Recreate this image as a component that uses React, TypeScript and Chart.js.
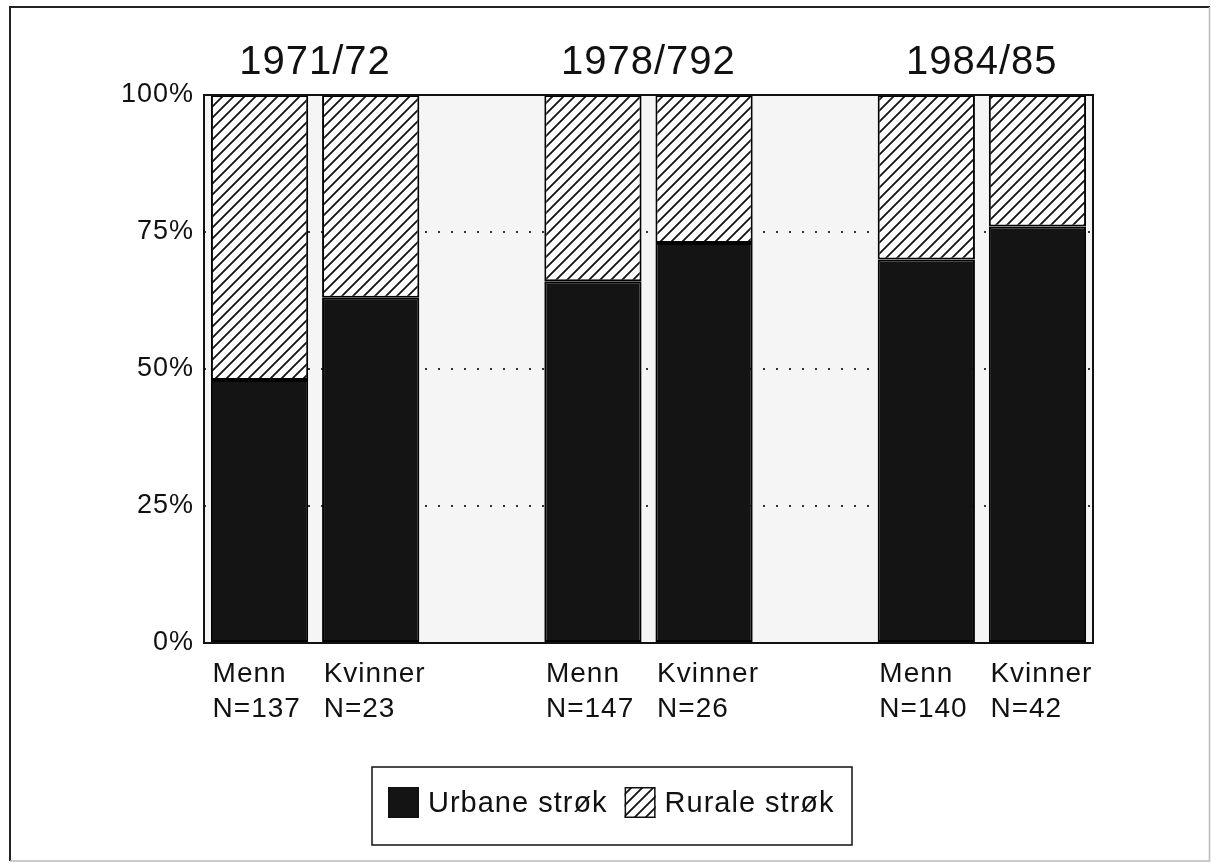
import React, { useEffect, useRef } from "react";
import { Chart, registerables } from "chart.js";

Chart.register(...registerables);

// ---- data ----
const groupTitles = ["1971/72", "", "", "1978/792", "", "", "1984/85", ""];
const barLabels: (string | string[])[] = [
  ["Menn", "N=137"],
  ["Kvinner", "N=23"],
  "",
  ["Menn", "N=147"],
  ["Kvinner", "N=26"],
  "",
  ["Menn", "N=140"],
  ["Kvinner", "N=42"],
];
const urbane = [48, 63, null, 66, 73, null, 70, 76];
const rurale = [52, 37, null, 34, 27, null, 30, 24];
const seriesNames = ["Urbane strøk", "Rurale strøk"];
const yMin = 0;
const yMax = 100;
const yStep = 25;

const FONT = "'Liberation Sans', Arial, Helvetica, sans-serif";
const SPACING = "1px";

function makeHatch(): CanvasPattern | string {
  const s = 11;
  const c = document.createElement("canvas");
  c.width = s;
  c.height = s;
  const g = c.getContext("2d");
  if (!g) return "#fff";
  g.fillStyle = "#fff";
  g.fillRect(0, 0, s, s);
  g.strokeStyle = "#111";
  g.lineWidth = 1.8;
  g.beginPath();
  g.moveTo(-1, s + 1);
  g.lineTo(s + 1, -1);
  g.moveTo(-s / 2 - 1, s / 2 + 1);
  g.lineTo(s / 2 + 1, -s / 2 - 1);
  g.moveTo(s / 2 - 1, s * 1.5 + 1);
  g.lineTo(s * 1.5 + 1, s / 2 - 1);
  g.stroke();
  const p = g.createPattern(c, "repeat");
  return p || "#fff";
}

const decorPlugin = {
  id: "decor",
  beforeUpdate(chart: any) {
    chart.ctx.letterSpacing = SPACING;
  },
  beforeDraw(chart: any) {
    const { ctx, chartArea: a } = chart;
    ctx.letterSpacing = SPACING;
    ctx.save();
    ctx.fillStyle = "#ffffff";
    ctx.fillRect(0, 0, chart.width, chart.height);
    ctx.fillStyle = "#f5f5f5";
    ctx.fillRect(a.left, a.top, a.right - a.left, a.bottom - a.top);
    ctx.restore();
  },
  afterDatasetsDraw(chart: any) {
    const { ctx, chartArea: a } = chart;
    ctx.save();
    ctx.strokeStyle = "#111";
    ctx.lineWidth = 2;
    ctx.strokeRect(a.left, a.top, a.right - a.left, a.bottom - a.top);
    ctx.restore();
  },
  afterDraw(chart: any) {
    const { ctx } = chart;
    ctx.save();
    // outer frame
    ctx.strokeStyle = "#222";
    ctx.lineWidth = 2;
    ctx.beginPath();
    ctx.moveTo(10, 861);
    ctx.lineTo(10, 7);
    ctx.lineTo(1210, 7);
    ctx.stroke();
    ctx.strokeStyle = "#bbb";
    ctx.lineWidth = 1.5;
    ctx.beginPath();
    ctx.moveTo(1209.5, 7);
    ctx.lineTo(1209.5, 861);
    ctx.lineTo(10, 861);
    ctx.stroke();

    // legend
    const bx = 372, by = 767, bw = 480, bh = 78;
    ctx.strokeStyle = "#111";
    ctx.lineWidth = 1.5;
    ctx.strokeRect(bx, by, bw, bh);
    ctx.font = `29px ${FONT}`;
    ctx.letterSpacing = SPACING;
    ctx.textBaseline = "middle";
    ctx.textAlign = "left";
    let x = 388;
    const sq = 31;
    const sy = 787;
    chart.data.datasets.forEach((ds: any) => {
      ctx.fillStyle = ds.backgroundColor;
      ctx.fillRect(x, sy, sq, sq);
      ctx.strokeStyle = "#111";
      ctx.lineWidth = 1.5;
      ctx.strokeRect(x + 0.75, sy + 0.75, sq - 1.5, sq - 1.5);
      x += sq + 9;
      ctx.fillStyle = "#111";
      ctx.fillText(ds.label, x, 804);
      x += ctx.measureText(ds.label).width + 17;
    });
    ctx.restore();
  },
};

export default function App() {
  const ref = useRef<HTMLCanvasElement | null>(null);

  useEffect(() => {
    const canvas = ref.current;
    if (!canvas) return;
    const ctx = canvas.getContext("2d");
    if (!ctx) return;
    const hatch = makeHatch();

    const chart = new Chart(ctx, {
      type: "bar",
      data: {
        labels: barLabels as any,
        datasets: [
          {
            label: seriesNames[0],
            data: urbane as any,
            backgroundColor: "#141414",
            borderColor: "#000",
            borderWidth: 2,
            borderSkipped: false,
          },
          {
            label: seriesNames[1],
            data: rurale as any,
            backgroundColor: hatch as any,
            borderColor: "#000",
            borderWidth: 2,
            borderSkipped: false,
          },
        ],
      },
      options: {
        animation: false,
        responsive: false,
        devicePixelRatio: 1,
        layout: { padding: { top: 0, right: 118, bottom: 120, left: 0 } },
        datasets: {
          bar: { barPercentage: 0.875, categoryPercentage: 1 },
        },
        plugins: {
          legend: { display: false },
          tooltip: { enabled: false },
          title: { display: false },
        },
        scales: {
          x: {
            stacked: true,
            offset: true,
            position: "bottom",
            grid: { display: false, drawTicks: false },
            border: { display: false },
            ticks: {
              color: "#111",
              font: { family: FONT, size: 28, lineHeight: 1.25 },
              align: "start",
              labelOffset: -47,
              padding: 14,
              autoSkip: false,
              maxRotation: 0,
              minRotation: 0,
            },
            afterFit: (s: any) => {
              s.height = 100;
            },
          },
          x2: {
            type: "category",
            labels: groupTitles,
            offset: true,
            position: "top",
            grid: { display: false, drawTicks: false },
            border: { display: false },
            ticks: {
              color: "#111",
              font: { family: FONT, size: 40, lineHeight: 1.2 },
              labelOffset: 55.5,
              padding: 8,
              autoSkip: false,
              maxRotation: 0,
              minRotation: 0,
            },
            afterFit: (s: any) => {
              s.height = 95;
            },
          },
          y: {
            stacked: true,
            min: yMin,
            max: yMax,
            grid: {
              drawTicks: false,
              lineWidth: 2,
              color: (c: any) =>
                c.tick && (c.tick.value === yMin || c.tick.value === yMax)
                  ? "rgba(0,0,0,0)"
                  : "#333",
            },
            border: { display: false, dash: [2, 11] },
            ticks: {
              stepSize: yStep,
              color: "#111",
              font: { family: FONT, size: 27 },
              padding: 10,
              callback: (v: any) => `${v}%`,
            },
            afterFit: (s: any) => {
              s.width = 204;
            },
          },
        },
      },
      plugins: [decorPlugin],
    } as any);

    return () => chart.destroy();
  }, []);

  return (
    <div style={{ position: "absolute", left: 0, top: 0, width: 1211, height: 863 }}>
      <canvas ref={ref} width={1211} height={863} style={{ display: "block" }} />
    </div>
  );
}
